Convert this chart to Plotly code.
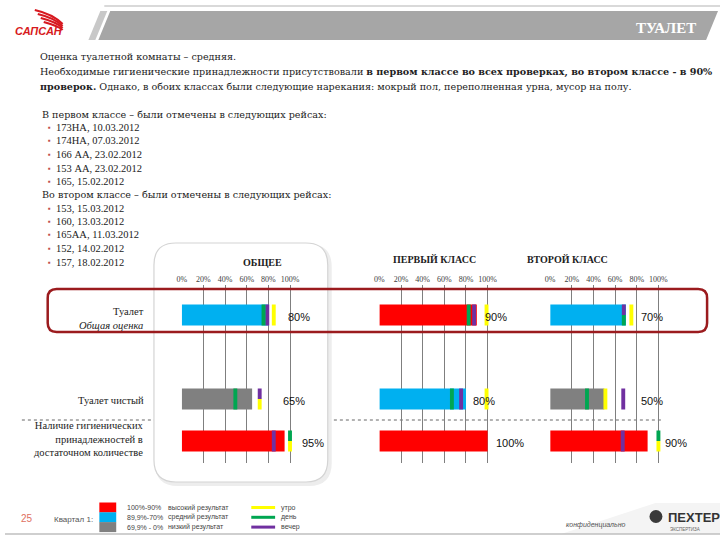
import plotly.graph_objects as go

# ---------------- data ----------------
ROW_NAMES = ["Туалет<br><i>Общая оценка</i>", "Туалет чистый",
             "Наличие гигиенических<br>принадлежностей в<br>достаточном количестве"]
CHART_TITLES = ["ОБЩЕЕ", "ПЕРВЫЙ КЛАСС", "ВТОРОЙ КЛАСС"]
TICK_VALS = [0, 20, 40, 60, 80, 100]
TICK_TEXT = ["0%", "20%", "40%", "60%", "80%", "100%"]

TOTAL_ALL = [80, 65, 95]
TOTAL_FIRST = [90, 80, 100]
TOTAL_SECOND = [70, 50, 90]

MORNING_ALL = [85, 72, 100]
MORNING_FIRST = [99, 99, None]
MORNING_SECOND = [75, 51, 100]

DAY_ALL = [75.5, 49.5, 100]
DAY_FIRST = [82.5, 67, None]
DAY_SECOND = [68, 34, 100]

EVENING_ALL = [79, 72, 85]
EVENING_FIRST = [87.5, 75.5, None]
EVENING_SECOND = [68, 67.5, 67]

FIRST_CLASS_FLIGHTS = ["173НА, 10.03.2012", "174НА, 07.03.2012", "166 АА, 23.02.2012",
                       "153 АА, 23.02.2012", "165, 15.02.2012"]
SECOND_CLASS_FLIGHTS = ["153, 15.03.2012", "160, 13.03.2012", "165АА, 11.03.2012",
                        "152, 14.02.2012", "157, 18.02.2012"]

# ---------------- layout constants ----------------
W, H = 720, 540
SERIF = "Liberation Serif, Times New Roman, serif"
WSERIF = "DejaVu Serif, serif"
SANS = "Liberation Sans, Arial, sans-serif"
RED, BLUE, GRAY = "#FF0000", "#00B0F0", "#808080"
C_MOR, C_DAY, C_EVE = "#FFFF00", "#00A651", "#7030A0"
ROW_Y = [3, 1, 0]
BAR_W = 0.5
MARK_W = 3.6
X_LEFT_PX = [178, 377, 549]
PX_PER_PCT = 1.09
X_MAX = 112
Y_TOP_PX, Y_BOT_PX = 285, 463
LABEL_X = [[96, 92, 109], [96, 85, 105.5], [82, 82, 104.6]]


def px(x):
    return x / W


def py(y):
    return 1 - y / H


def band_color(v):
    if v >= 90:
        return RED
    if v >= 70:
        return BLUE
    return GRAY


def rrect(x0, y0, x1, y1, r):
    rx, ry = r / W, r / H
    a, b, c, d = px(x0), py(y0), px(x1), py(y1)
    return (f"M {a+rx},{b} L {c-rx},{b} Q {c},{b} {c},{b-ry} L {c},{d+ry} "
            f"Q {c},{d} {c-rx},{d} L {a+rx},{d} Q {a},{d} {a},{d+ry} L {a},{b-ry} "
            f"Q {a},{b} {a+rx},{b} Z")


fig = go.Figure()

charts = [
    (TOTAL_ALL, MORNING_ALL, DAY_ALL, EVENING_ALL),
    (TOTAL_FIRST, MORNING_FIRST, DAY_FIRST, EVENING_FIRST),
    (TOTAL_SECOND, MORNING_SECOND, DAY_SECOND, EVENING_SECOND),
]

annotations = []
layout_axes = {}
for i, (tot, mor, day, eve) in enumerate(charts):
    sfx = "" if i == 0 else str(i + 1)
    xa, ya = "x" + sfx, "y" + sfx
    fig.add_trace(go.Bar(orientation="h", y=ROW_Y, x=tot, base=0, width=BAR_W,
                         marker=dict(color=[band_color(v) for v in tot], line_width=0),
                         xaxis=xa, yaxis=ya, showlegend=False, hoverinfo="skip"))
    series = [(eve, C_EVE), (day, C_DAY), (mor, C_MOR)]
    for k, (vals, col) in enumerate(series):
        ys, xs, bases, widths, offsets = [], [], [], [], []
        for r, v in enumerate(vals):
            if v is None:
                continue
            same = [j for j, (vv, _) in enumerate(series)
                    if vv[r] is not None and abs(vv[r] - v) < 0.01]
            if len(same) > 1:
                if same.index(k) == 0:
                    off, wd = 0.0, BAR_W / 2
                else:
                    off, wd = -BAR_W / 2, BAR_W / 2
            else:
                off, wd = -BAR_W / 2, BAR_W
            ys.append(ROW_Y[r]); xs.append(MARK_W); bases.append(v - MARK_W / 2)
            widths.append(wd); offsets.append(off)
        if ys:
            fig.add_trace(go.Bar(orientation="h", y=ys, x=xs, base=bases, width=widths,
                                 offset=offsets, marker=dict(color=col, line_width=0),
                                 xaxis=xa, yaxis=ya, showlegend=False, hoverinfo="skip"))
    x0 = X_LEFT_PX[i]
    layout_axes["xaxis" + sfx] = dict(
        domain=[px(x0), px(x0 + X_MAX * PX_PER_PCT)], range=[0, X_MAX], anchor=ya,
        side="top", tickvals=TICK_VALS, ticktext=TICK_TEXT, ticks="",
        tickfont=dict(family=SERIF, size=8, color="#404040"),
        showgrid=True, gridcolor="#7F7F7F", gridwidth=1, zeroline=False,
        showline=False, fixedrange=True)
    layout_axes["yaxis" + sfx] = dict(
        domain=[py(Y_BOT_PX), py(Y_TOP_PX)], range=[-0.524, 3.714], anchor=xa,
        showticklabels=False, showgrid=False, zeroline=False, fixedrange=True)
    for r, v in enumerate(tot):
        annotations.append(dict(xref=xa, yref=ya, x=LABEL_X[i][r], y=ROW_Y[r] - 0.05,
                                text=f"{v}%", showarrow=False, xanchor="left", yanchor="middle",
                                font=dict(family=SANS, size=11, color="#111111")))

# chart titles
for t, (cx, cy) in zip(CHART_TITLES, [(238, 262), (433, 259), (609, 259)]):
    annotations.append(dict(xref="paper", yref="paper", x=px(cx), y=py(cy), text=f"<b>{t}</b>",
                            showarrow=False, yanchor="middle",
                            font=dict(family=SERIF, size=10, color="#222")))

# row labels
for name, yy in zip(ROW_NAMES, [318, 400, 439]):
    annotations.append(dict(xref="paper", yref="paper", x=px(142), y=py(yy), text=name,
                            showarrow=False, xanchor="right", yanchor="middle", align="right",
                            font=dict(family=SERIF, size=10.5, color="#222")))


def txt(x, y, s, size=11, color="#222", family=SERIF, anchor="left"):
    annotations.append(dict(xref="paper", yref="paper", x=px(x), y=py(y), text=s,
                            showarrow=False, xanchor=anchor, yanchor="middle",
                            font=dict(family=family, size=size, color=color)))


# header
txt(698, 28, "<b>ТУАЛЕТ</b>", size=15, color="white", anchor="right")
txt(8, 31, "<b><i>САПСАН</i></b>", size=11, color="#D71920", family=SANS)

# body text
txt(33, 57, "Оценка туалетной комнаты – средняя.", size=9.6, family=WSERIF)
txt(33, 72, "Необходимые гигиенические принадлежности присутствовали <b>в первом классе во всех проверках, во втором классе - в 90%</b>", size=9.6, family=WSERIF)
txt(33, 87, "<b>проверок.</b> Однако, в обоих классах были следующие нарекания: мокрый пол, переполненная урна, мусор на полу.", size=9.6, family=WSERIF)

txt(35, 114, "В первом классе – были отмечены в следующих рейсах:", size=9.6, family=WSERIF)
for k, s in enumerate(FIRST_CLASS_FLIGHTS):
    yy = 127.5 + k * 13.5
    txt(41, yy, "▪", size=8, color="#C0504D")
    txt(49, yy, s, size=10.5)
txt(35, 194.5, "Во втором классе – были отмечены в следующих рейсах:", size=9.6, family=WSERIF)
for k, s in enumerate(SECOND_CLASS_FLIGHTS):
    yy = 208 + k * 13.5
    txt(41, yy, "▪", size=8, color="#C0504D")
    txt(49, yy, s, size=10.5)

# footer
txt(14, 518, "25", size=10, color="#E0705F", family=SANS)
txt(47, 519, "Квартал 1:", size=8, color="#555", family=SANS)
legend_rows = [("100%-90%", "высокий результат", RED, C_MOR, "утро"),
               ("89,9%-70%", "средний результат", BLUE, C_DAY, "день"),
               ("69,9% - 0%", "низкий результат", GRAY, C_EVE, "вечер")]
shapes = []
for k, (rng, lab, col, lcol, tl) in enumerate(legend_rows):
    yy = 507.5 + k * 9.8
    shapes.append(dict(type="rect", xref="paper", yref="paper", x0=px(95), x1=px(112),
                       y0=py(yy - 5), y1=py(yy + 5), fillcolor=col, line_width=0))
    txt(121, yy, rng, size=7, color="#444", family=SANS)
    txt(162, yy, lab, size=7, color="#444", family=SANS)
    shapes.append(dict(type="line", xref="paper", yref="paper", x0=px(248), x1=px(272),
                       y0=py(yy), y1=py(yy), line=dict(color=lcol, width=3)))
    txt(276, yy, tl, size=7, color="#444", family=SANS)

txt(563, 525, "<i>конфиденциально</i>", size=7, color="#555", family=SANS)
txt(666, 517, "<b>ПЕХТЕР</b>", size=13, color="#333", family=SANS)
txt(668, 529, "ЭКСПЕРТИЗА", size=4.5, color="#666", family=SANS)

# background / decorative shapes (drawn below traces)
bg = []
bg.append(dict(type="line", xref="paper", yref="paper", x0=px(100), x1=px(720), y0=py(6), y1=py(6),
               line=dict(color="#D9D9D9", width=2)))
bg.append(dict(type="path", xref="paper", yref="paper",
               path=f"M {px(106)},{py(11)} L {px(718)},{py(11)} L {px(706)},{py(40)} L {px(94)},{py(40)} Z",
               fillcolor="#A6A6A6", line_width=0))
bg.append(dict(type="path", xref="paper", yref="paper",
               path=f"M {px(96)},{py(11)} L {px(103)},{py(11)} L {px(91)},{py(40)} L {px(84)},{py(40)} Z",
               fillcolor="#C8C8C8", line_width=0))
for k in range(4):
    bg.append(dict(type="path", xref="paper", yref="paper",
                   path=f"M {px(30 + k*3)},{py(10 + k*4)} Q {px(48 + k*2)},{py(14 + k*4)} {px(58)},{py(24 + k*2)}",
                   line=dict(color="#D71920", width=2.2)))
bg.append(dict(type="line", xref="paper", yref="paper", x0=px(17), x1=px(662), y0=py(420), y1=py(420),
               line=dict(color="#666", width=1, dash="dot")))
bg.append(dict(type="path", xref="paper", yref="paper", path=rrect(152, 245, 328, 485, 22),
               fillcolor="#EDEDED", line=dict(color="#EDEDED", width=2)))
bg.append(dict(type="path", xref="paper", yref="paper", path=rrect(150, 243, 325, 482, 22),
               fillcolor="white", line=dict(color="#D4D4D4", width=1.2)))
bg.append(dict(type="path", xref="paper", yref="paper",
               path=f"M {px(560)},{py(534)} L {px(655)},{py(503)} L {px(720)},{py(503)} L {px(720)},{py(534)} Z",
               fillcolor="#F4F4F4", line_width=0))
bg.append(dict(type="line", xref="paper", yref="paper", x0=px(0), x1=px(720), y0=py(534), y1=py(534),
               line=dict(color="#BFBFBF", width=1.5)))
for s in bg:
    s["layer"] = "below"

shapes.append(dict(type="path", xref="paper", yref="paper", path=rrect(43, 289, 707, 332, 9),
                   line=dict(color="#9B1B1E", width=2.5), layer="above"))
shapes.append(dict(type="circle", xref="paper", yref="paper", x0=px(649), x1=px(662),
                   y0=py(510), y1=py(523), fillcolor="#3A3A3A", line_width=0))

fig.update_layout(
    width=W, height=H, autosize=False,
    margin=dict(l=0, r=0, t=0, b=0),
    paper_bgcolor="white", plot_bgcolor="rgba(0,0,0,0)",
    barmode="overlay", hovermode=False, showlegend=False,
    shapes=bg + shapes, annotations=annotations,
    **layout_axes,
)

fig.write_html("out.html", config={"displayModeBar": False},
               post_script="document.body.style.margin='0px';document.body.style.overflow='hidden';")
